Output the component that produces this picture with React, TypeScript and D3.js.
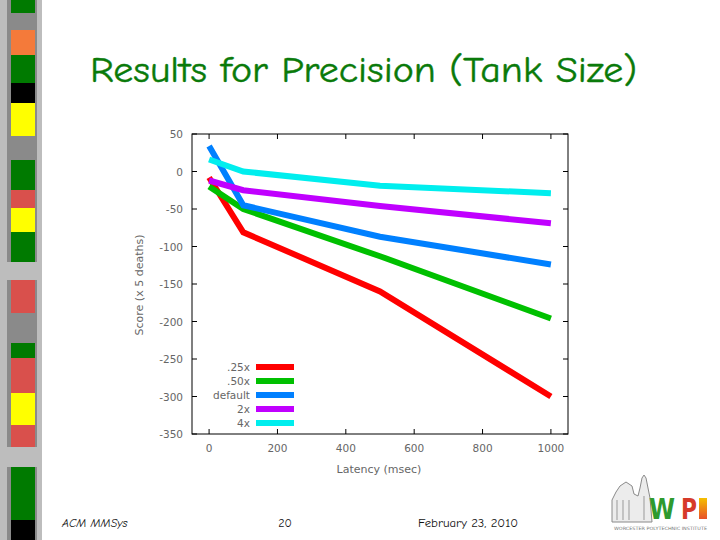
import React from "react";
import * as d3 from "d3";

const latency = [0, 100, 500, 1000];
const seriesNames = [".25x", ".50x", "default", "2x", "4x"];
const seriesColors = ["#ff0000", "#00c000", "#0080ff", "#c000ff", "#00eeee"];
const s25 = [-8, -81, -160, -300];
const s50 = [-20, -50, -113, -196];
const sDefault = [34, -45, -87, -124];
const s2x = [-12, -25, -46, -69];
const s4x = [16, 0, -19, -29];
const seriesValues = [s25, s50, sDefault, s2x, s4x];
const xTicks = [0, 200, 400, 600, 800, 1000];
const yTicks = [50, 0, -50, -100, -150, -200, -250, -300, -350];

const stripBlocks = [
  { y0: 0, y1: 13, c: "#007a00" },
  { y0: 30, y1: 55, c: "#f47a3a" },
  { y0: 55, y1: 83, c: "#007a00" },
  { y0: 83, y1: 103, c: "#000000" },
  { y0: 103, y1: 136, c: "#ffff00" },
  { y0: 160, y1: 190, c: "#007a00" },
  { y0: 190, y1: 208, c: "#d9504c" },
  { y0: 208, y1: 232, c: "#ffff00" },
  { y0: 232, y1: 262, c: "#007a00" },
  { y0: 280, y1: 313, c: "#d9504c" },
  { y0: 343, y1: 358, c: "#007a00" },
  { y0: 358, y1: 393, c: "#d9504c" },
  { y0: 393, y1: 425, c: "#ffff00" },
  { y0: 425, y1: 447, c: "#d9504c" },
  { y0: 467, y1: 520, c: "#007a00" },
  { y0: 520, y1: 540, c: "#000000" },
];

const lightGrayRuns = [
  { y0: 262, y1: 280 },
  { y0: 447, y1: 467 },
];

export default function App() {
  const left = 192, right = 568, top = 134, bottom = 434;
  const x = d3.scaleLinear().domain([-50, 1050]).range([left, right]);
  const y = d3.scaleLinear().domain([50, -350]).range([top, bottom]);
  const line = d3
    .line<[number, number]>()
    .x((d) => x(d[0]))
    .y((d) => y(d[1]));
  const tickLen = 5;
  const axisFont = "DejaVu Sans, sans-serif";
  const comic = "'Comic Sans MS', 'Comic Neue', 'DejaVu Sans', sans-serif";
  const axisColor = "#666";

  const legendY = [367, 381, 395, 409, 423];

  return (
    <svg
      width={720}
      height={540}
      style={{ position: "absolute", left: 0, top: 0, background: "#fff" }}
    >
      <defs>
        <linearGradient id="iGrad" x1="0" y1="1" x2="0" y2="0">
          <stop offset="0" stopColor="#e8502a" />
          <stop offset="1" stopColor="#f5c000" />
        </linearGradient>
      </defs>

      {/* left decorative strip */}
      <rect x={0} y={0} width={42} height={540} fill="#bdbdbd" />
      <rect x={7} y={0} width={30} height={540} fill="#8a8a8a" />
      {lightGrayRuns.map((r, i) => (
        <rect key={"lg" + i} x={7} y={r.y0} width={30} height={r.y1 - r.y0} fill="#bdbdbd" />
      ))}
      {stripBlocks.map((b, i) => (
        <rect key={"b" + i} x={11} y={b.y0} width={24} height={b.y1 - b.y0} fill={b.c} />
      ))}

      {/* title */}
      <text
        x={90}
        y={82}
        fontFamily={comic}
        fontSize={36}
        fill="#0a7a0a"
        stroke="#0a7a0a"
        strokeWidth={0.4}
        textLength={547}
        lengthAdjust="spacingAndGlyphs"
      >
        Results for Precision (Tank Size)
      </text>

      {/* series */}
      {seriesValues.map((vals, i) => (
        <path
          key={"s" + i}
          d={line(latency.map((l, j) => [l, vals[j]] as [number, number])) || ""}
          fill="none"
          stroke={seriesColors[i]}
          strokeWidth={6}
          strokeLinejoin="miter"
        />
      ))}

      {/* frame */}
      <rect x={left} y={top} width={right - left} height={bottom - top} fill="none" stroke="#000" strokeWidth={1} />
      {xTicks.map((t) => (
        <g key={"xt" + t}>
          <line x1={x(t)} x2={x(t)} y1={bottom} y2={bottom - tickLen} stroke="#000" />
          <line x1={x(t)} x2={x(t)} y1={top} y2={top + tickLen} stroke="#000" />
          <text x={x(t)} y={452} textAnchor="middle" fontFamily={axisFont} fontSize={10.5} fill={axisColor}>
            {t}
          </text>
        </g>
      ))}
      {yTicks.map((t) => (
        <g key={"yt" + t}>
          <line x1={left} x2={left + tickLen} y1={y(t)} y2={y(t)} stroke="#000" />
          <line x1={right} x2={right - tickLen} y1={y(t)} y2={y(t)} stroke="#000" />
          <text x={183} y={y(t) + 4} textAnchor="end" fontFamily={axisFont} fontSize={10.5} fill={axisColor}>
            {t}
          </text>
        </g>
      ))}
      <text x={379} y={473} textAnchor="middle" fontFamily={axisFont} fontSize={11} fill={axisColor}>
        Latency (msec)
      </text>
      <text
        transform="translate(143,285) rotate(-90)"
        textAnchor="middle"
        fontFamily={axisFont}
        fontSize={11}
        fill={axisColor}
      >
        Score (x 5 deaths)
      </text>

      {/* legend */}
      {seriesNames.map((n, i) => (
        <g key={"lg" + n}>
          <text x={250} y={legendY[i] + 4} textAnchor="end" fontFamily={axisFont} fontSize={10.5} fill={axisColor}>
            {n}
          </text>
          <line x1={256} x2={294} y1={legendY[i]} y2={legendY[i]} stroke={seriesColors[i]} strokeWidth={6} />
        </g>
      ))}

      {/* footer */}
      <text x={62} y={527} fontFamily={comic} fontStyle="italic" fontSize={12} fill="#111">
        ACM MMSys
      </text>
      <text x={285} y={527} textAnchor="middle" fontFamily={comic} fontSize={12} fill="#111">
        20
      </text>
      <text x={418} y={527} fontFamily={comic} fontSize={12} fill="#111" textLength={100} lengthAdjust="spacingAndGlyphs">
        February 23, 2010
      </text>

      {/* WPI logo */}
      <g>
        <path
          d="M612,522 L612,500 L616,492 L620,486 L626,482 L632,486 L634,494 L638,496 L640,488 L642,478 L644,475 L646,478 L648,488 L650,498 L652,522 Z"
          fill="#ececec"
          stroke="#8a8a8a"
          strokeWidth={1}
        />
        <line x1={617} x2={617} y1={500} y2={520} stroke="#999" />
        <line x1={623} x2={623} y1={500} y2={520} stroke="#999" />
        <line x1={629} x2={629} y1={500} y2={520} stroke="#999" />
        <line x1={644} x2={644} y1={496} y2={520} stroke="#999" />
        <text x={649} y={519} fontFamily="DejaVu Sans, sans-serif" fontWeight="bold" fontSize={28} fill="#2e9a2e" textLength={26} lengthAdjust="spacingAndGlyphs">
          W
        </text>
        <text x={681} y={519} fontFamily="DejaVu Sans, sans-serif" fontWeight="bold" fontSize={28} fill="#d63a2a" textLength={16} lengthAdjust="spacingAndGlyphs">
          P
        </text>
        <rect x={699} y={498} width={8} height={21} fill="url(#iGrad)" />
        <text x={614} y={530} fontFamily="DejaVu Sans, sans-serif" fontSize={4.5} fill="#777" textLength={93} lengthAdjust="spacingAndGlyphs">
          WORCESTER POLYTECHNIC INSTITUTE
        </text>
      </g>
    </svg>
  );
}
